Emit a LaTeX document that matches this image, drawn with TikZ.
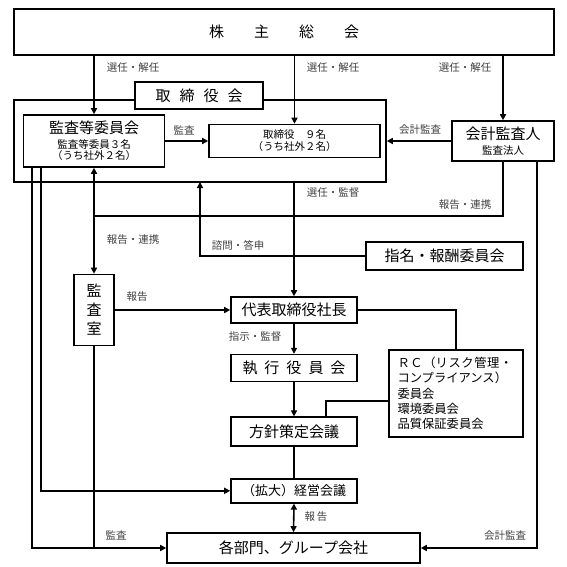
\documentclass[tikz,border=0pt]{standalone}
\usepackage{fontspec}
\setmainfont{Noto Sans CJK JP}
\usetikzlibrary{positioning,arrows.meta}
\newcommand\bigj{\fontsize{15}{19}\selectfont}
\newcommand\midj{\fontsize{12.3}{15.3}\selectfont}
\newcommand\smallj{\fontsize{10.5}{12}\selectfont}

\begin{document}
\begin{tikzpicture}[x=1pt,y=-1pt,line width=1.6pt,
  box/.style={draw,inner sep=0pt,font=\bigj},
  chain/.style={box,minimum width=126pt},
  lbl/.style={font=\smallj,text=black!75,inner sep=0pt},
  arr/.style={-{Triangle[length=6pt,width=6pt]}},
  arrboth/.style={{Triangle[length=6pt,width=6pt]}-{Triangle[length=6pt,width=6pt]}}]
\useasboundingbox (0,0) rectangle (567,567);
% top level
\node[box,minimum width=540pt,minimum height=46pt] (gm) at (284,32) {株\hspace{2em}主\hspace{2em}総\hspace{2em}会};
\node[draw,minimum width=372pt,minimum height=82pt] (board) at (200,141) {};
\node[box,fill=white,minimum width=128pt,minimum height=27pt] (bt) at (199,95.5) {取\hspace{9pt}締\hspace{9pt}役\hspace{9pt}会};
\node[box,align=center,minimum width=141pt,minimum height=52pt] (ac) at (94,141) {監査等委員会\\[-3.7pt]{\smallj 監査等委員３名}\\[-8pt]{\smallj （うち社外２名）}};
\node[box,font=\smallj,align=center,minimum width=171pt,minimum height=33pt] (dir) at (294.5,141) {取締役　９名\\（うち社外２名）};
\node[box,align=center,minimum width=102pt,minimum height=40pt] (aud) at (503,141) {会計監査人\\[-3.7pt]{\smallj 監査法人}};
\node[box,minimum width=157pt,minimum height=28pt] (nom) at (444.5,256) {指名・報酬委員会};
\node[box,align=center,minimum width=40pt,minimum height=71pt] (ia) at (94,310) {監\\査\\室};
% executive chain
\node[chain,minimum height=26pt] (pres) at (294,310) {代表取締役社長};
\node[chain,minimum height=27pt] (exec) [below=30pt of pres] {執\hspace{7pt}行\hspace{7pt}役\hspace{7pt}員\hspace{7pt}会};
\node[chain,minimum height=29pt] (pol) [below=34pt of exec] {方針策定会議};
\node[chain,minimum height=24pt,font=\fontsize{13}{15}\selectfont] (emm) [below=31pt of pol] {（拡大）経営会議};
\node[box,minimum width=253pt,minimum height=30pt] (dept) at (293.5,548) {各部門、グループ会社};
\node[box,font=\midj,align=left,text width=117pt,inner xsep=8.5pt,minimum height=87pt] (rc) at (456,393.5) {Ｒ\hspace{0.6pt}Ｃ\hspace{0.6pt}（リ\hspace{0.6pt}ス\hspace{0.6pt}ク\hspace{0.6pt}管\hspace{0.6pt}理\hspace{0.6pt}・\\コンプライアンス）\\委員会\\環境委員会\\品質保証委員会};
% connectors
\coordinate (j1) at (94,216);
\coordinate (bs) at (200,182);
\draw[arr] (ac.north |- gm.south) -- (ac.north);
\draw[arr] (dir.north |- gm.south) -- (dir.north);
\draw[arr] (aud.north |- gm.south) -- (aud.north);
\draw[arr] (ac.east) -- (dir.west);
\draw[arr] (aud.west) -- (board.east |- aud.west);
\draw (aud.south) |- (j1);
\draw[arrboth] (ac.south) -- (ia.north);
\draw[arr] (nom.west) -| (bs);
\draw[arr] (pres.north |- board.south) -- (pres.north);
\draw[arr] (ia.east) -- (ia.east -| pres.west);
\draw[arr] (pres.south) -- (exec.north);
\draw[arr] (exec.south) -- (pol.north);
\draw (pol.south) -- (emm.north);
\draw[arrboth] (emm.south) -- (dept.north);
\draw (rc.north) |- (pres.east);
\draw ([yshift=-7.5pt]rc.west) -| ([xshift=32pt]pol.north);
\draw[arr] ([xshift=9pt]ac.south west) |- (dept.west);
\draw[arr] ([xshift=18pt]ac.south west) |- (emm.west);
\draw (ia.south) -- (ia.south |- dept.west);
\draw[arr] ([xshift=34pt]aud.south) |- (dept.east);
% labels
\node[lbl] (l1) at (133,68) {選任・解任};
\node[lbl] (l2) at (333,68) {選任・解任};
\node[lbl] (l3) at (465,68) {選任・解任};
\node[lbl] (l4) at (184,130) {監査};
\node[lbl] (l5) at (420,130) {会計監査};
\node[lbl] (l6) at (333,193) {選任・監督};
\node[lbl] (l7) at (465,205) {報告・連携};
\node[lbl] (l8) at (133,240) {報告・連携};
\node[lbl] (l9) at (238,245) {諮問・答申};
\node[lbl] (l10) at (137,297) {報告};
\node[lbl] (l11) at (255,337) {指示・監督};
\node[lbl] (l12) at (316,517) {報\hspace{2pt}告};
\node[lbl] (l13) at (116,535) {監査};
\node[lbl] (l14) at (505,536) {会計監査};
\end{tikzpicture}
\end{document}
